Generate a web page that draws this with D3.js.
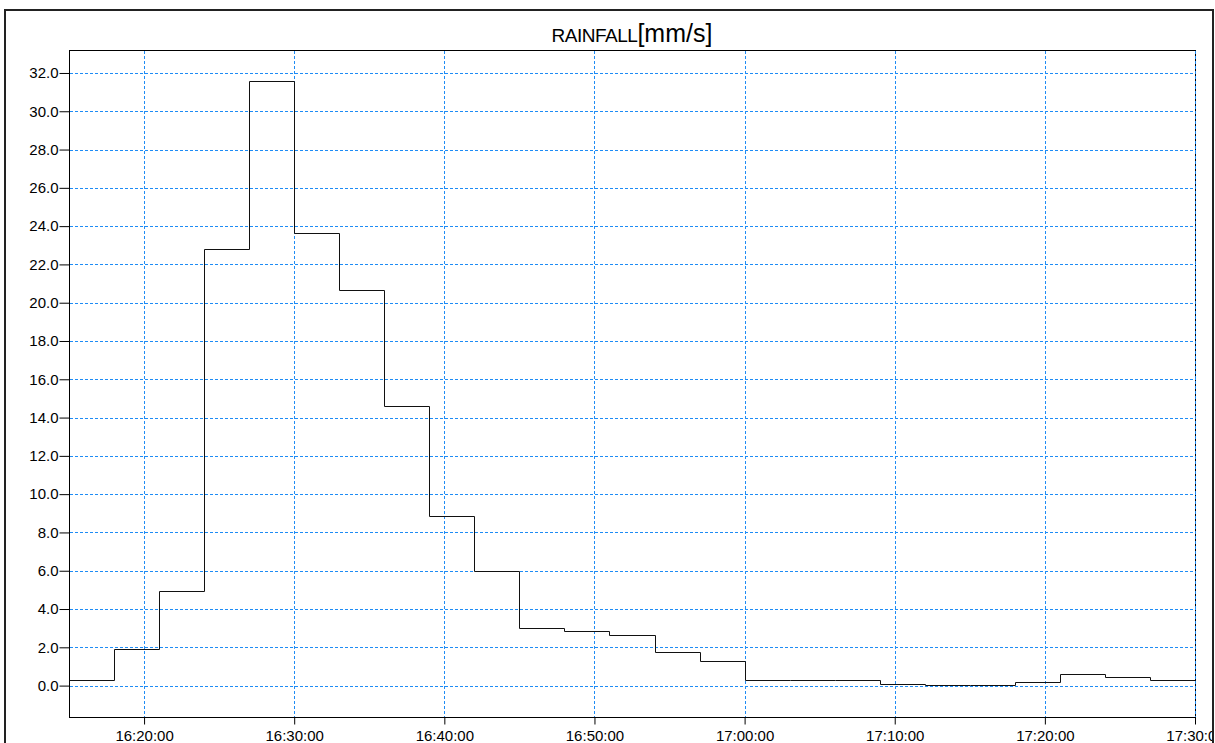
<!DOCTYPE html>
<html>
<head>
<meta charset="utf-8">
<script src="https://cdn.jsdelivr.net/npm/d3@7"></script>
<style>
    body { margin: 0; background: #fff; }
    svg { display: block; font-family: Arial, "Liberation Sans", sans-serif; }
</style>
</head>
<body>
<div id="chart"></div>
<script>
// rainfall per 3-minute interval, value holds from start time until next one
var startTimes = ["16:15", "16:18", "16:21", "16:24", "16:27", "16:30", "16:33", "16:36", "16:39",
    "16:42", "16:45", "16:48", "16:51", "16:54", "16:57", "17:00", "17:03", "17:06", "17:09",
    "17:12", "17:15", "17:18", "17:21", "17:24", "17:27"];
var rainfall = [0.3, 1.9, 4.95, 22.8, 31.6, 23.65, 20.65, 14.6, 8.85,
    6.0, 3.0, 2.87, 2.65, 1.74, 1.31, 0.3, 0.3, 0.3, 0.08,
    0.02, 0.02, 0.18, 0.61, 0.44, 0.3];
var endTime = "17:30";
var yTicks = [0, 2, 4, 6, 8, 10, 12, 14, 16, 18, 20, 22, 24, 26, 28, 30, 32];

var W = 1215, H = 743;
var plot = {left: 69, top: 50, right: 1195, bottom: 717};
var gridColor = '#1e8cf5';

var parse = d3.utcParse('%H:%M');

var points = startTimes.map(function (t, i) {
    return {t: parse(t), v: rainfall[i]};
});
points.push({t: parse(endTime), v: rainfall[rainfall.length - 1]});

var x = d3.scaleUtc()
        .domain([parse(startTimes[0]), parse(endTime)])
        .range([plot.left, plot.right]);
var y = d3.scaleLinear()
        .domain([-1.64, 33.2])
        .range([plot.bottom, plot.top]);

var svg = d3.select('#chart')
        .append('svg')
        .attr('width', W)
        .attr('height', H);

svg.append('clipPath')
        .attr('id', 'frameclip')
        .append('rect')
        .attr('x', 6).attr('y', 11)
        .attr('width', 1206).attr('height', H);

var g = svg.append('g').attr('clip-path', 'url(#frameclip)');

// plot box
g.append('rect')
        .attr('x', plot.left + 0.5).attr('y', plot.top + 0.5)
        .attr('width', plot.right - plot.left).attr('height', plot.bottom - plot.top)
        .attr('fill', 'none')
        .attr('stroke', '#000')
        .attr('stroke-width', 1);

// grid
var majorX = x.ticks(d3.utcMinute.every(10));
g.append('g').selectAll('line')
        .data(majorX)
        .enter().append('line')
        .attr('x1', function (d) { return Math.round(x(d)) + 0.5; })
        .attr('x2', function (d) { return Math.round(x(d)) + 0.5; })
        .attr('y1', plot.top + 1).attr('y2', plot.bottom)
        .attr('stroke', gridColor)
        .attr('stroke-dasharray', '3,2');
g.append('g').selectAll('line')
        .data(yTicks)
        .enter().append('line')
        .attr('x1', plot.left + 1).attr('x2', plot.right + 1)
        .attr('y1', function (d) { return Math.round(y(d)) + 0.5; })
        .attr('y2', function (d) { return Math.round(y(d)) + 0.5; })
        .attr('stroke', gridColor)
        .attr('stroke-dasharray', '3,2');

// step line
var line = d3.line()
        .curve(d3.curveStepAfter)
        .x(function (d) { return Math.round(x(d.t)) + 0.5; })
        .y(function (d) { return Math.round(y(d.v)) + 0.5; });
g.append('path')
        .datum(points)
        .attr('d', line)
        .attr('fill', 'none')
        .attr('stroke', '#111')
        .attr('stroke-width', 1);

// y axis
var yMinor = d3.range(-1.5, 33.01, 0.5);
var yAxisG = g.append('g').attr('transform', 'translate(' + (plot.left + 0.5) + ',0)');
yAxisG.call(d3.axisLeft(y).tickValues(yMinor).tickSize(5).tickFormat(''));
yAxisG.call(d3.axisLeft(y).tickValues(yTicks).tickSize(10).tickPadding(1).tickFormat(d3.format('.1f')));
yAxisG.selectAll('.domain').remove();
yAxisG.selectAll('.tick line').attr('stroke', '#000');
yAxisG.selectAll('text')
        .attr('font-size', '15px')
        .attr('font-family', 'Arial, "Liberation Sans", sans-serif')
        .attr('fill', '#000');

// x axis
var xAxisG = g.append('g').attr('transform', 'translate(0,' + (plot.bottom + 0.5) + ')');
xAxisG.call(d3.axisBottom(x).ticks(d3.utcMinute.every(1)).tickSize(5).tickFormat(''));
xAxisG.call(d3.axisBottom(x).ticks(d3.utcMinute.every(10)).tickSize(7).tickPadding(6)
        .tickFormat(d3.utcFormat('%H:%M:%S')));
xAxisG.selectAll('.domain').remove();
xAxisG.selectAll('.tick line').attr('stroke', '#000');
xAxisG.selectAll('text')
        .attr('font-size', '15px')
        .attr('font-family', 'Arial, "Liberation Sans", sans-serif')
        .attr('fill', '#000');

// title
var title = g.append('text')
        .attr('x', (plot.left + plot.right) / 2)
        .attr('y', 42)
        .attr('text-anchor', 'middle')
        .attr('fill', '#000');
title.append('tspan').attr('font-size', '19px').attr('letter-spacing', '-0.5px').text('RAINFALL');
title.append('tspan').attr('font-size', '25px').text('[mm/s]');

// outer frame
svg.append('rect')
        .attr('x', 5).attr('y', 10)
        .attr('width', 1208).attr('height', H + 20)
        .attr('fill', 'none')
        .attr('stroke', '#222')
        .attr('stroke-width', 2);
</script>
</body>
</html>
